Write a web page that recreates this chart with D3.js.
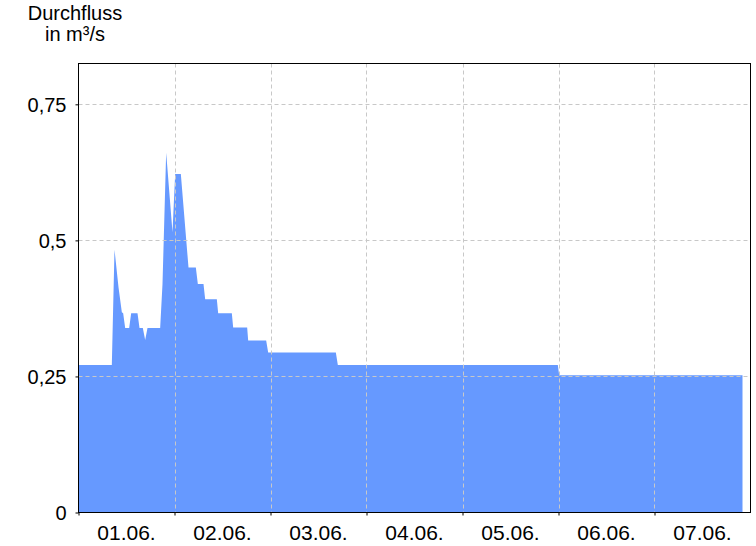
<!DOCTYPE html>
<html>
<head>
<meta charset="utf-8">
<script src="https://cdn.jsdelivr.net/npm/d3@7"></script>
<style>
  html, body { margin: 0; padding: 0; background: #ffffff; }
  svg { display: block; }
  text { font-family: Arial, "Liberation Sans", Helvetica, sans-serif; fill: #000; }
</style>
</head>
<body>
<svg id="chart" width="756" height="546"></svg>
<script>
// ---- data ----
const times = [
  "01.06. 00:00", "01.06. 08:20", "01.06. 09:00", "01.06. 10:00", "01.06. 10:50",
  "01.06. 11:10", "01.06. 11:40", "01.06. 12:40", "01.06. 13:10", "01.06. 14:45",
  "01.06. 15:15", "01.06. 16:05", "01.06. 16:40", "01.06. 17:15", "01.06. 20:25",
  "01.06. 21:00", "01.06. 21:55", "01.06. 23:30", "02.06. 00:10", "02.06. 01:35",
  "02.06. 03:30", "02.06. 05:20", "02.06. 05:50", "02.06. 07:15", "02.06. 07:40",
  "02.06. 10:35", "02.06. 10:55", "02.06. 14:20", "02.06. 14:40", "02.06. 18:10",
  "02.06. 18:25", "02.06. 22:55", "02.06. 23:25", "03.06. 16:20", "03.06. 16:50",
  "05.06. 23:50", "06.06. 00:10", "07.06. 22:00"
];
const flow = [
  0.271, 0.271, 0.483, 0.414, 0.368,
  0.366, 0.339, 0.339, 0.366, 0.366,
  0.339, 0.339, 0.317, 0.339, 0.339,
  0.420, 0.661, 0.515, 0.622, 0.622,
  0.450, 0.450, 0.420, 0.420, 0.392,
  0.392, 0.366, 0.366, 0.340, 0.340,
  0.316, 0.316, 0.294, 0.294, 0.271,
  0.271, 0.252, 0.252
];
const yTicks = [0, 0.25, 0.5, 0.75];
const yTickLabels = ["0", "0,25", "0,5", "0,75"];
const dayLabels = ["01.06.", "02.06.", "03.06.", "04.06.", "05.06.", "06.06.", "07.06."];
const titleLines = ["Durchfluss", "in m³/s"];
const domainStart = "01.06. 00:00";
const domainEnd = "08.06. 00:00";
const yMax = 0.825;

// ---- chart ----
(function () {
const parse = d3.utcParse("%d.%m. %H:%M");
const data = times.map((t, i) => ({ t: parse(t), v: flow[i] }));

const svg = d3.select("#chart");
const pLeft = 78.5, pRight = 750.5, pTop = 63.5, pBottom = 512.5;

const x = d3.scaleUtc().domain([parse(domainStart), parse(domainEnd)]).range([pLeft, pRight]);
const y = d3.scaleLinear().domain([0, yMax]).range([pBottom, pTop]);

// area
const area = d3.area()
  .x(d => x(d.t))
  .y0(y(0))
  .y1(d => y(d.v));
svg.append("path")
  .datum(data)
  .attr("d", area)
  .attr("fill", "#6699ff");

// gridlines
const days = d3.utcDay.range(parse(domainStart), parse(domainEnd)).slice(1);
const grid = svg.append("g").attr("stroke", "#c8c8c8").attr("stroke-width", 1)
  .attr("stroke-dasharray", "4,3");
grid.selectAll("line.v").data(days).enter().append("line")
  .attr("x1", d => Math.round(x(d)) + 0.5).attr("x2", d => Math.round(x(d)) + 0.5)
  .attr("y1", pTop).attr("y2", pBottom);
grid.selectAll("line.h").data(yTicks.filter(v => v > 0)).enter().append("line")
  .attr("x1", pLeft).attr("x2", pRight)
  .attr("y1", d => Math.round(y(d)) + 0.5).attr("y2", d => Math.round(y(d)) + 0.5);

// frame
svg.append("rect")
  .attr("x", pLeft).attr("y", pTop)
  .attr("width", pRight - pLeft).attr("height", pBottom - pTop)
  .attr("fill", "none").attr("stroke", "#000").attr("stroke-width", 1);

// y axis ticks + labels
const yAxis = d3.axisLeft(y).tickValues(yTicks).tickSize(3).tickPadding(9)
  .tickFormat((d, i) => yTickLabels[i]);
const gy = svg.append("g").attr("transform", `translate(${pLeft},0)`).call(yAxis);
gy.select(".domain").remove();
gy.selectAll("line").attr("stroke", "#000");
gy.selectAll("text").attr("font-size", "20px").attr("dy", "0.35em").attr("fill", "#000")
  .style("font-family", "Arial, 'Liberation Sans', sans-serif");

// x axis ticks at midnight
const xAxis = d3.axisBottom(x).tickValues(d3.utcDay.range(parse(domainStart), parse(domainEnd)))
  .tickSize(3).tickFormat("");
const gx = svg.append("g").attr("transform", `translate(0,${pBottom})`).call(xAxis);
gx.select(".domain").remove();
gx.selectAll("line").attr("stroke", "#000");

// x labels at noon
const noons = d3.utcDay.range(parse(domainStart), parse(domainEnd)).map(d => d3.utcHour.offset(d, 12));
svg.append("g").selectAll("text").data(noons).enter().append("text")
  .attr("x", d => x(d))
  .attr("y", 540)
  .attr("text-anchor", "middle")
  .attr("font-size", "21px")
  .text((d, i) => dayLabels[i]);

// title
svg.append("g").selectAll("text").data(titleLines).enter().append("text")
  .attr("x", 75)
  .attr("y", (d, i) => 20 + i * 21)
  .attr("text-anchor", "middle")
  .attr("font-size", "20px")
  .text(d => d);
})();
</script>
</body>
</html>
